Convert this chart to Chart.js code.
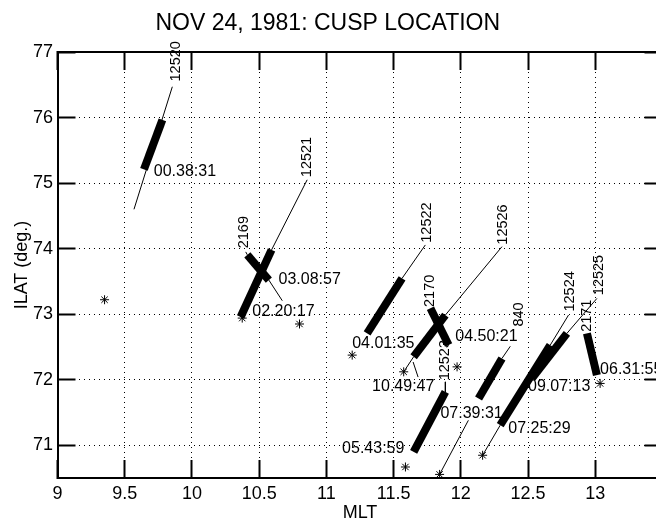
<!DOCTYPE html>
<html>
<head>
<meta charset="utf-8">
<script src="https://cdn.jsdelivr.net/npm/chart.js@4.4.0/dist/chart.umd.min.js"></script>
<style>
  html, body { margin: 0; padding: 0; background: #fff; overflow: hidden; }
  #wrap { width: 656px; height: 521px; overflow: hidden; }
</style>
</head>
<body>
<div id="wrap"><canvas id="cusp" width="700" height="521"></canvas></div>
<script>
// values: MLT (hours) and ILAT (deg.)
const thickSegments = [
  [9.78, 75.965, 9.643, 75.21],    // 12520
  [10.592, 73.98, 10.362, 72.956], // 12521
  [10.412, 73.905, 10.572, 73.52], // 2169
  [11.563, 73.547, 11.303, 72.707],// 12522
  [11.885, 72.986, 11.649, 72.35], // 12526
  [11.774, 73.089, 11.909, 72.528],// 2170
  [11.885, 71.814, 11.649, 70.898],// 12523
  [12.306, 72.325, 12.132, 71.713],// 840
  [12.665, 72.528, 12.293, 71.306],// 12524
  [12.789, 72.707, 12.529, 72.02], // 12525
  [12.938, 72.707, 13.012, 72.07]  // 2171
]

const thinSegments = [
  [9.854, 76.47, 9.569, 74.60],
  [10.857, 75.05, 10.592, 73.98],
  [10.40, 73.95, 10.412, 73.905],
  [10.572, 73.52, 10.672, 73.205],
  [11.736, 74.056, 11.563, 73.547],
  [12.306, 74.03, 11.885, 72.986],
  [11.649, 72.35, 11.575, 72.12],
  [11.645, 72.27, 11.682, 72.04],
  [11.885, 71.967, 11.885, 71.814],
  [12.368, 72.51, 12.306, 72.325],
  [12.056, 71.38, 11.842, 70.555],
  [12.801, 72.986, 12.665, 72.528],
  [12.293, 71.306, 12.162, 70.847],
  [13.012, 73.24, 12.789, 72.707]
]

const starMLT = [9.35, 10.374, 10.80, 11.192, 11.575, 11.972, 11.588, 11.842, 12.162, 13.036]
const starILAT = [73.22, 72.94, 72.85, 72.375, 72.12, 72.196, 70.668, 70.555, 70.847, 71.943]

const orbitNumbers = ['12520', '12521', '2169', '12522', '12526', '2170', '12523', '840', '12524', '12525', '2171']
const orbitLabelAt = [
  [9.879, 76.55], [10.857, 75.09], [10.386, 74.005], [11.749, 74.09], [12.316, 74.06],
  [11.774, 73.11], [11.885, 71.99], [12.43, 72.81], [12.813, 73.04], [13.024, 73.29], [12.938, 72.73]
]

const passTimes = ['00.38:31', '03.08:57', '02.20:17', '04.01:35', '04.50:21', '10.49:47',
  '05.43:59', '07.39:31', '09.07:13', '07.25:29', '06.31:55']
const timeLabelAt = [
  [9.716, 75.176], [10.644, 73.52], [10.449, 73.037], [11.192, 72.554], [11.959, 72.655], [11.34, 71.891],
  [11.117, 70.95], [11.848, 71.49], [12.50, 71.891], [12.353, 71.255], [13.036, 72.157]
]

const FONT = '"Liberation Sans", Arial, Helvetica, sans-serif'

const seg = (s, w) => ({
  data: [{ x: s[0], y: s[1] }, { x: s[2], y: s[3] }],
  showLine: true,
  borderColor: '#000',
  borderWidth: w,
  borderCapStyle: 'butt',
  pointRadius: 0,
  pointHoverRadius: 0
})

const datasets = [
  ...thinSegments.map(s => seg(s, 1)),
  ...thickSegments.map(s => seg(s, 8)),
  {
    data: starMLT.map((v, i) => ({ x: v, y: starILAT[i] })),
    pointStyle: 'star',
    pointRadius: 4.5,
    pointBorderColor: '#000',
    pointBorderWidth: 1,
    showLine: false
  }
]

// orbit numbers (rotated) and pass times
const annotate = {
  id: 'annotate',
  afterDatasetsDraw(chart) {
    const { ctx, scales: { x, y } } = chart
    ctx.save()
    ctx.fillStyle = '#000'
    ctx.textBaseline = 'middle'
    ctx.textAlign = 'left'
    ctx.font = '14.5px ' + FONT
    orbitNumbers.forEach((t, i) => {
      ctx.save()
      ctx.translate(x.getPixelForValue(orbitLabelAt[i][0]), y.getPixelForValue(orbitLabelAt[i][1]))
      ctx.rotate(-Math.PI / 2)
      ctx.fillText(t, 0, 0)
      ctx.restore()
    })
    ctx.font = '16px ' + FONT
    passTimes.forEach((t, i) => {
      ctx.fillText(t, x.getPixelForValue(timeLabelAt[i][0]), y.getPixelForValue(timeLabelAt[i][1]))
    })
    ctx.restore()
  }
}

const axisGrid = { color: '#000', lineWidth: 1, tickLength: -18, tickColor: '#000', tickWidth: 2 }
const sideGrid = { drawOnChartArea: false, tickLength: -18, tickColor: '#000', tickWidth: 2 }
const axisBorder = { display: true, color: '#000', width: 2, dash: [1, 4] }

new Chart(document.getElementById('cusp'), {
  type: 'scatter',
  data: { datasets },
  options: {
    responsive: false,
    animation: false,
    events: [],
    layout: { padding: { left: -7, right: 37.5, top: 0, bottom: 0 } },
    plugins: {
      legend: { display: false },
      tooltip: { enabled: false },
      title: {
        display: true,
        text: 'NOV 24, 1981: CUSP LOCATION',
        color: '#000',
        font: { family: FONT, size: 23, weight: 'normal', lineHeight: 1.2 },
        padding: { top: 10, bottom: 14.4 }
      }
    },
    scales: {
      x: {
        type: 'linear',
        position: 'bottom',
        min: 9,
        max: 13.5,
        ticks: {
          stepSize: 0.5,
          autoSkip: false,
          maxRotation: 0,
          padding: 23,
          color: '#000',
          font: { family: FONT, size: 18 },
          callback: v => (v > 13 ? '' : String(v))
        },
        grid: axisGrid,
        border: axisBorder,
        title: { display: true, text: 'MLT', color: '#000', font: { family: FONT, size: 18, lineHeight: 0.9 }, padding: 0 },
        afterFit: s => { s.height = 43 }
      },
      y: {
        type: 'linear',
        position: 'left',
        min: 70.5,
        max: 77,
        ticks: {
          stepSize: 1,
          includeBounds: false,
          padding: 22.5,
          color: '#000',
          font: { family: FONT, size: 18 }
        },
        grid: axisGrid,
        border: axisBorder,
        title: { display: true, text: 'ILAT (deg.)', color: '#000', font: { family: FONT, size: 18 }, padding: { top: 18, bottom: 0 } },
        afterFit: s => { s.width = 64.5 }
      },
      x2: {
        type: 'linear',
        position: 'top',
        min: 9,
        max: 13.5,
        ticks: { display: false, stepSize: 0.5 },
        grid: sideGrid,
        border: { display: true, color: '#000', width: 2 },
        afterFit: s => { s.height = 0 }
      },
      y2: {
        type: 'linear',
        position: 'right',
        min: 70.5,
        max: 77,
        ticks: { display: false, stepSize: 1, includeBounds: false },
        grid: sideGrid,
        border: { display: true, color: '#000', width: 2 },
        afterFit: s => { s.width = 0 }
      }
    }
  },
  plugins: [annotate]
})
</script>
</body>
</html>
